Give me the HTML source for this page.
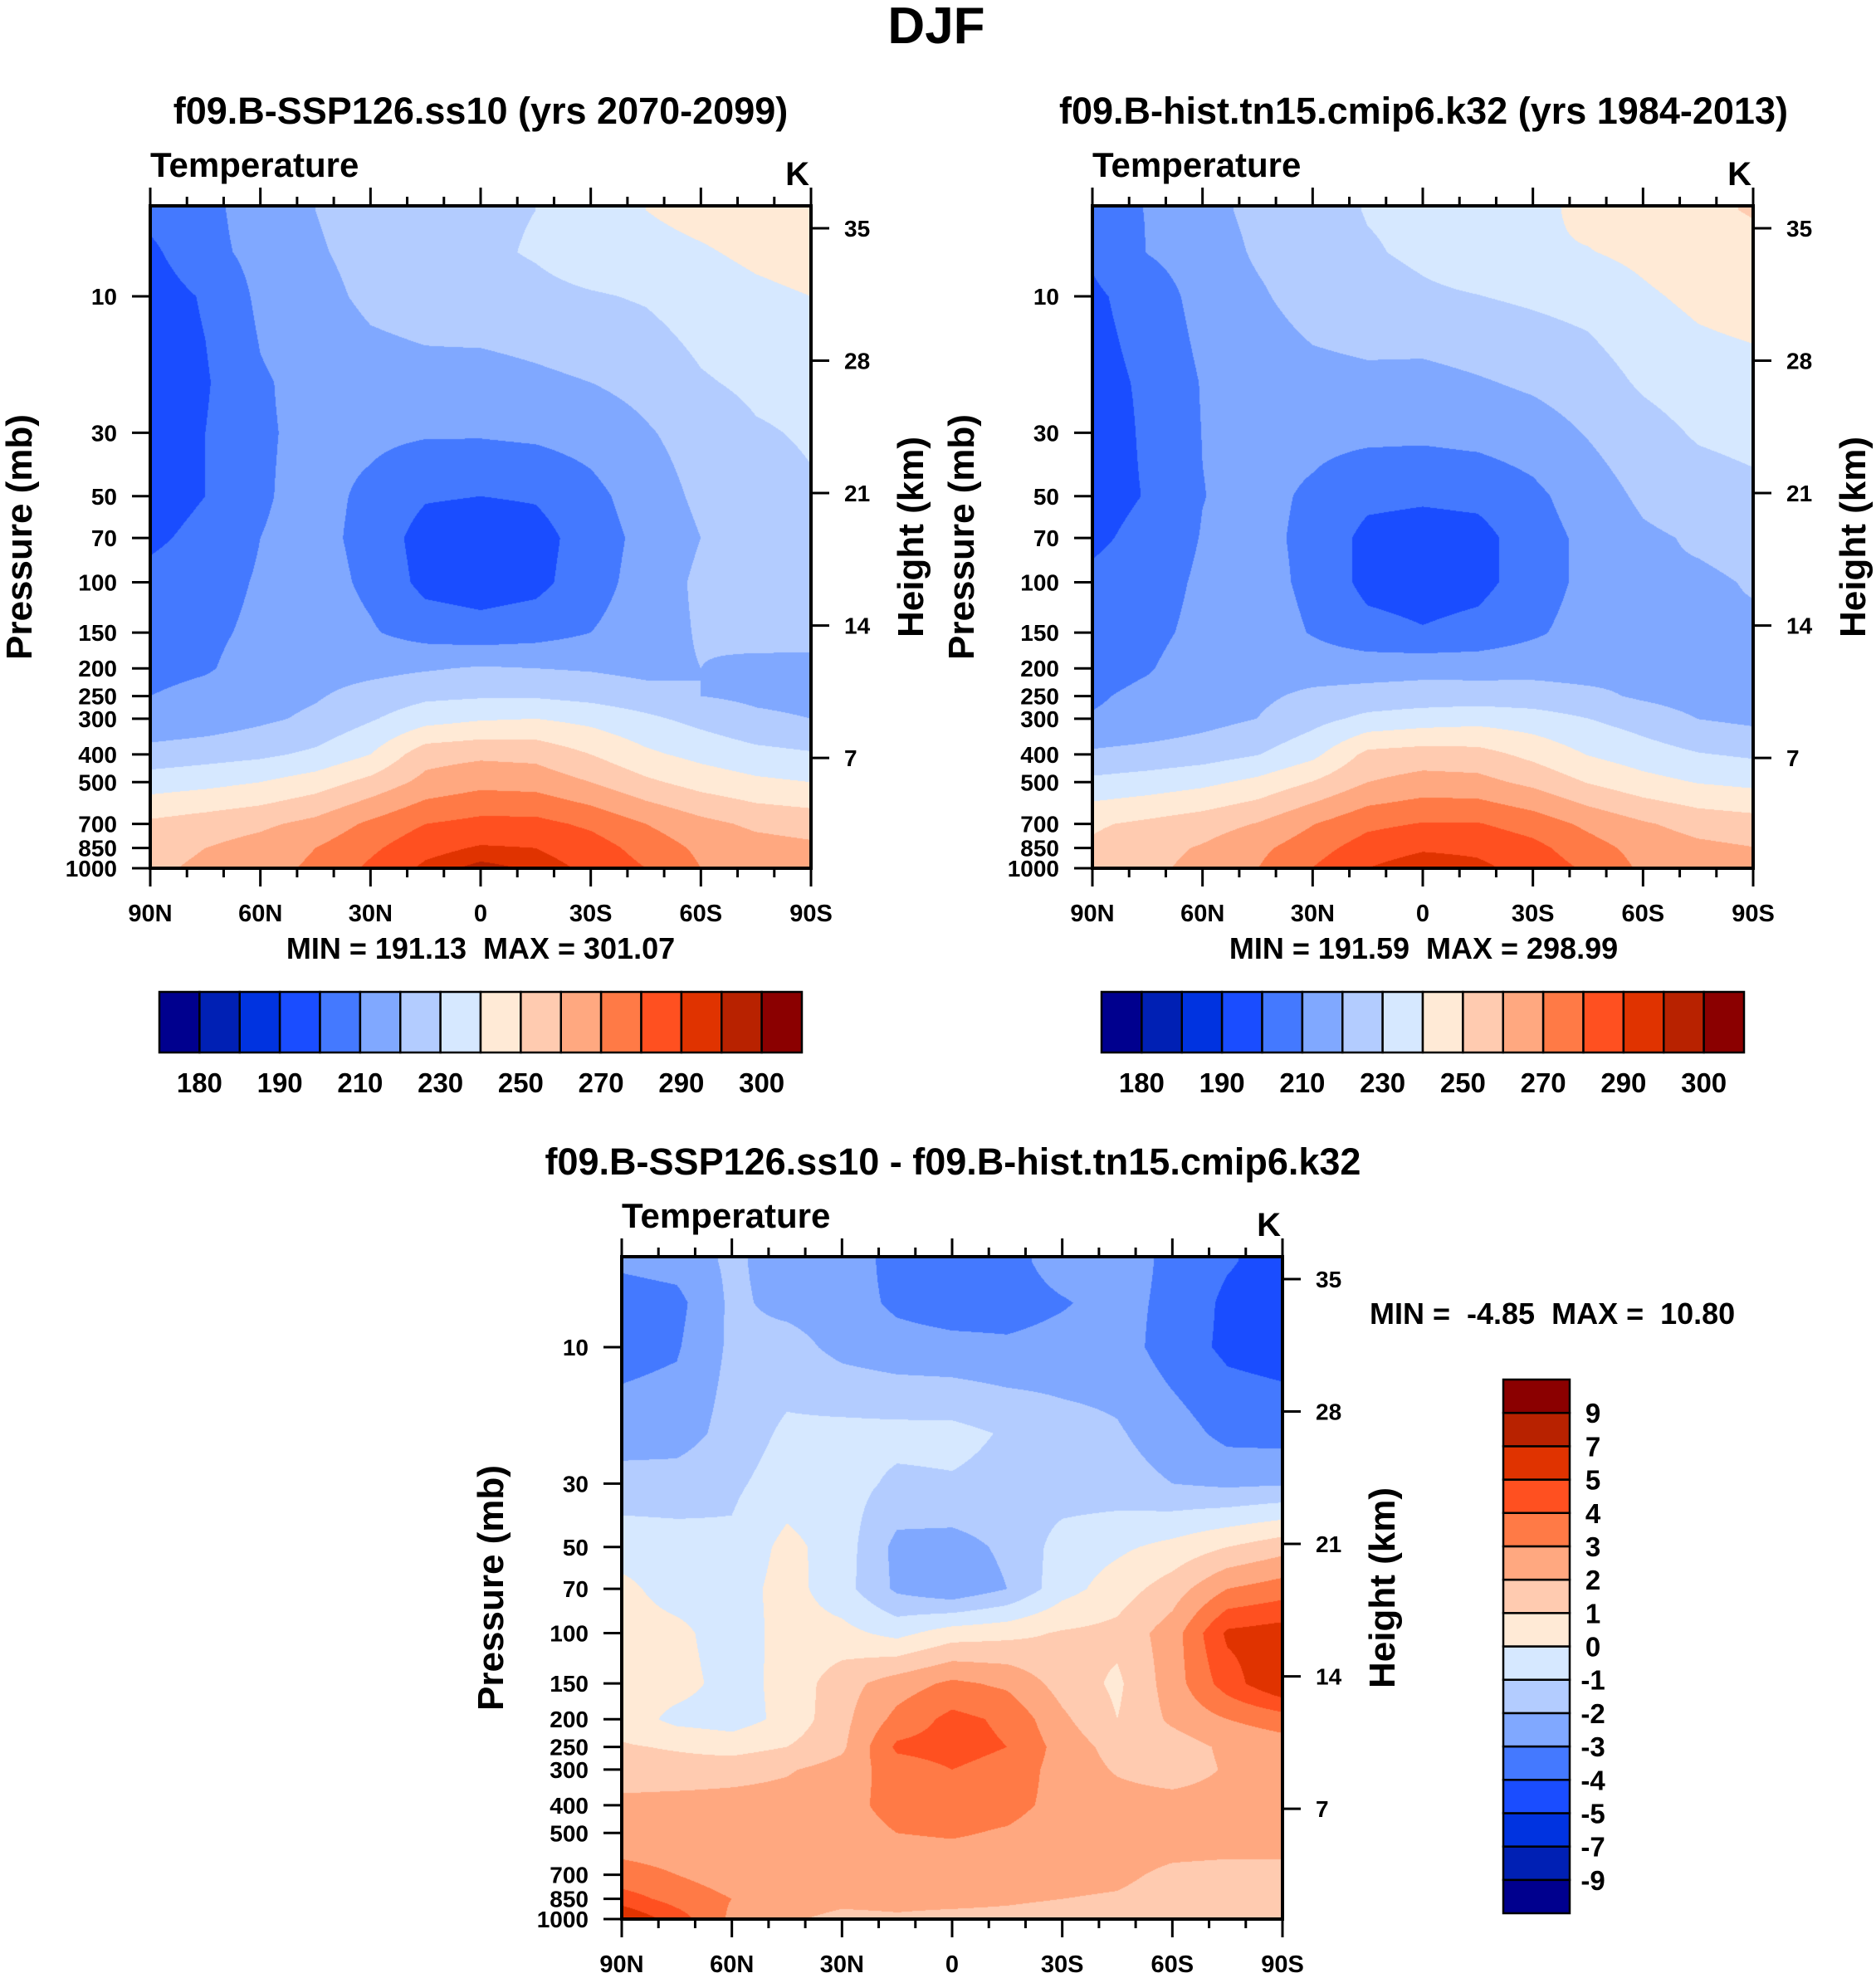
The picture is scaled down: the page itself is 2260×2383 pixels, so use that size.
<!DOCTYPE html>
<html><head><meta charset="utf-8">
<style>
html,body{margin:0;padding:0;background:#fff;}
#root{position:relative;width:2260px;height:2383px;overflow:hidden;background:#fff;font-family:"Liberation Sans",Arial,sans-serif;}
canvas{position:absolute;}
svg{position:absolute;left:0;top:0;}
svg text{white-space:pre;}
</style></head>
<body>
<div id="root">
<canvas id="c1" width="796" height="798" style="left:181px;top:248px"></canvas>
<canvas id="c2" width="797" height="798" style="left:1316px;top:248px"></canvas>
<canvas id="c3" width="797" height="798" style="left:749px;top:1514px"></canvas>
<svg id="ov" width="2260" height="2383"></svg>
</div>
<script>
const lats = [90,75,60,45,30,15,0,-15,-30,-45,-60,-75,-90];
const levels = [5,7,10,20,30,50,70,100,150,200,250,300,400,500,700,850,1000];
const tSSP = [
[203,207,215,220,224,227,228,230,235,240,243,245,246],
[198,207,213,219,223,226,228,231,236,237,239,242,244],
[195,201,212,217,222,224,226,227,229,231,235,238,240],
[194,199,209,213,216,217,216,218,220,223,229,232,233],
[193,200,209,212,212,211,211,212,214,219,224,229,231],
[195,200,209,213,208,201,200,201,207,215,222,226,229],
[198,203,210,213,207,195.5,194,196,205,213,220,224,226],
[203,206,211,214,208,197,195,197,206,214,222,224,226],
[205,208,212,215,211,206,204,206,210,215,221,224,225],
[207,209,214,216,217,219,221,220,219,217,220,217,216],
[210,213,216,219,224,228,229,229,227,224,220,218,217],
[212,214,218,222,229,236,239,240,237,232,227,222,220],
[224,226,228,232,240,256,258,257,250,242,237,233,231],
[235,237,240,245,253,263,267,266,260,252,246,242,240],
[252,255,258,263,272,280,283,283,278,270,263,258,256],
[256,260,264,270,278,287,291,290,285,276,268,264,262],
[258,262,266,272,282,292,297,294,288,280,270,266,264]];
const tHist = [
[206.5,210.3,216.8,222.5,226.2,230.5,231.6,233.4,237.5,242.4,246.3,248.9,250.4],
[201.5,210.3,214.8,221.3,225.5,229.2,231.5,234.5,239.1,239.6,242.3,246.2,248.5],
[198.3,204.1,213.8,218.6,224.3,226.6,228.7,229.8,231.6,233.5,238.5,242.2,244.4],
[196.6,201.5,210.6,213.8,216.7,217.7,216.7,219.1,221.6,224.9,231.5,235.3,236.4],
[194.5,201.5,210.2,212.5,212.6,212.3,212.1,213.3,215.5,220.6,226.0,231.2,233.1],
[195.5,200.6,209.8,212.7,208.5,202.5,201.5,202.5,207.6,215.2,221.7,225.0,227.4],
[197.7,203.5,210.5,212.6,207.6,197.0,195.5,196.5,205.4,212.5,218.5,221.0,222.5],
[202.5,205.7,211.6,213.6,207.7,197.0,195.5,197.0,204.9,212.7,219.5,218.8,220.5],
[204.5,207.6,212.4,214.7,209.4,203.5,200.8,203.2,208.4,214.2,218.5,219.5,219.0],
[206.4,209.3,214.5,215.7,215.3,215.7,216.7,216.2,216.8,216.0,217.8,214.0,212.5],
[208.9,212.1,215.4,218.0,222.2,223.8,224.6,225.0,224.4,222.4,218.5,215.8,214.5],
[210.6,212.6,216.4,220.1,226.6,232.5,235.0,236.4,234.4,230.1,225.5,219.9,217.7],
[221.7,223.6,225.6,229.6,237.3,252.7,254.6,253.7,247.3,239.6,234.6,230.6,228.6],
[232.5,234.5,237.5,242.5,250.4,260.0,263.9,263.1,257.5,249.5,243.5,239.5,237.5],
[248.7,252.0,255.5,260.6,269.6,277.6,280.6,280.6,275.7,267.8,261.2,256.3,254.3],
[251.5,256.4,261.0,267.6,275.8,284.8,288.8,287.9,283.0,274.1,266.4,262.4,260.3],
[252.0,257.5,263.2,269.9,280.2,290.1,295.2,292.2,286.3,278.3,268.2,264.2,262.2]];
const tDiff = [
[-2.8,-2.6,-1.8,-2.5,-2.2,-3.5,-3.6,-3.4,-2.5,-2.4,-3.3,-3.9,-4.4],
[-3.5,-3.3,-1.8,-2.3,-2.5,-3.2,-3.5,-3.5,-3.1,-2.6,-3.3,-4.2,-4.5],
[-3.3,-3.1,-1.8,-1.6,-2.3,-2.6,-2.7,-2.8,-2.6,-2.5,-3.5,-4.2,-4.4],
[-2.6,-2.5,-1.6,-0.8,-0.7,-0.7,-0.7,-1.1,-1.6,-1.9,-2.5,-3.3,-3.4],
[-1.5,-1.5,-1.2,-0.5,-0.6,-1.2,-1.1,-1.3,-1.5,-1.6,-2.0,-2.2,-2.1],
[-0.5,-0.6,-0.8,0.3,-0.5,-2.3,-2.4,-1.8,-0.6,-0.2,0.3,1.0,1.6],
[0.3,-0.5,-0.5,0.4,-0.6,-2.2,-2.8,-2.0,-0.4,0.5,1.5,3.0,3.5],
[0.5,0.3,-0.6,0.4,0.3,-0.3,0.5,0.7,1.1,1.3,2.5,5.2,5.5],
[0.5,0.4,-0.4,0.3,1.6,2.5,3.2,2.8,1.6,0.8,2.5,4.5,6.0],
[0.6,-0.3,-0.5,0.3,1.7,3.3,4.3,3.8,2.2,1.0,2.2,3.0,3.5],
[1.1,0.9,0.6,1.0,1.8,4.2,4.4,4.0,2.6,1.6,1.5,2.2,2.5],
[1.4,1.4,1.6,1.9,2.4,3.5,4.0,3.6,2.6,1.9,1.5,2.1,2.3],
[2.3,2.4,2.4,2.4,2.7,3.3,3.4,3.3,2.7,2.4,2.4,2.4,2.4],
[2.5,2.5,2.5,2.5,2.6,3.0,3.1,2.9,2.5,2.5,2.5,2.5,2.5],
[3.3,3.0,2.5,2.4,2.4,2.4,2.4,2.4,2.3,2.2,1.8,1.7,1.7],
[4.5,3.6,3.0,2.4,2.2,2.2,2.2,2.1,2.0,1.9,1.6,1.6,1.7],
[6.0,4.5,2.8,2.1,1.8,1.9,1.8,1.8,1.7,1.7,1.8,1.8,1.8]];
const absLevels = [180,185,190,200,210,220,230,240,250,260,270,280,290,295,300];
const diffLevels = [-9,-7,-5,-4,-3,-2,-1,0,1,2,3,4,5,7,9];
const absTickLabels = ['180','190','210','230','250','270','290','300'];
const diffTickLabels = ['-9','-7','-5','-4','-3','-2','-1','0','1','2','3','4','5','7','9'];
const pressureTicks = [10,30,50,70,100,150,200,250,300,400,500,700,850,1000];
const heightTicks = [35,28,21,14,7];
const latTickLabels = ['90N','60N','30N','0','30S','60S','90S'];
const colors = ['#00008e','#0020b4','#0033e0','#1a4dff','#4479ff','#80a8ff','#b3ccff','#d6e8ff','#ffead6','#ffcbb0','#ffa880','#ff7a46','#ff5020','#e03300','#b82200','#8b0000'];

const PW = 796, PH = 798;
function yOfP(p){ return PH - (3 - Math.log10(p)) * 344.5; }
function yOfH(h){ return 27 + (35 - h) * 22.79; }
function xOfLat(lat){ return (90 - lat) / 180 * PW; }
function hexRGB(h){ return [parseInt(h.slice(1,3),16),parseInt(h.slice(3,5),16),parseInt(h.slice(5,7),16)]; }
const rgb = colors.map(hexRGB);
const logLev = levels.map(Math.log10);

function drawField(id, field, lev){
  const cv = document.getElementById(id);
  const ctx = cv.getContext('2d');
  const W = cv.width, H = cv.height;
  const img = ctx.createImageData(W, H);
  for (let py = 0; py < H; py++){
    let lp = 3 - (PH - py - 0.5) / 344.5;
    if (lp < logLev[0]) lp = logLev[0];
    let k = 0;
    while (k < logLev.length - 2 && lp > logLev[k+1]) k++;
    const t = (lp - logLev[k]) / (logLev[k+1] - logLev[k]);
    const r0 = field[k], r1 = field[k+1];
    for (let px = 0; px < W; px++){
      const lat = 90 - (px + 0.5) / PW * 180;
      let f = (90 - lat) / 15; if (f > 11.9999) f = 11.9999; if (f < 0) f = 0;
      const i = Math.floor(f), u = f - i;
      const a = r0[i]*(1-u) + r0[i+1]*u;
      const b = r1[i]*(1-u) + r1[i+1]*u;
      const v = a*(1-t) + b*t;
      let c = 0; while (c < lev.length && v >= lev[c]) c++;
      const col = rgb[c]; const o = (py*W + px)*4;
      img.data[o]=col[0]; img.data[o+1]=col[1]; img.data[o+2]=col[2]; img.data[o+3]=255;
    }
  }
  ctx.putImageData(img, 0, 0);
}
drawField('c1', tSSP, absLevels);
drawField('c2', tHist, absLevels);
drawField('c3', tDiff, diffLevels);

const NS = 'http://www.w3.org/2000/svg';
const ov = document.getElementById('ov');
function mk(tag, attrs, text){
  const e = document.createElementNS(NS, tag);
  for (const k in attrs) e.setAttribute(k, attrs[k]);
  if (text !== undefined) e.textContent = text;
  ov.appendChild(e);
  return e;
}
function txt(x, y, s, size, anchor, extra){
  const a = {x:x, y:y, 'font-size':size, 'font-weight':'bold', 'text-anchor':anchor||'middle', fill:'#000', 'font-family':'Liberation Sans, Arial, sans-serif'};
  if (extra) for (const k in extra) a[k] = extra[k];
  return mk('text', a, s);
}

let e;
e = txt(1128, 52, 'DJF', 62);



function panel(L, T, title, titleX, key){
  let el;
  el = txt(titleX, T - 99, title, 45);
  
  
  el = txt(L, T - 35, 'Temperature', 42, 'start');
  
  
  el = txt(L + PW - 2, T - 25, 'K', 40, 'end');
  
  
  el = mk('rect', {x:L, y:T, width:PW, height:PH, fill:'none', stroke:'#000', 'stroke-width':4});
  
  
  for (let lat = 90; lat >= -90; lat -= 10){
    const x = L + xOfLat(lat);
    const major = (lat % 30 === 0);
    const len = major ? 22 : 11;
    el = mk('line', {x1:x, y1:T, x2:x, y2:T - len, stroke:'#000', 'stroke-width':3});
    
    
    el = mk('line', {x1:x, y1:T + PH, x2:x, y2:T + PH + len, stroke:'#000', 'stroke-width':3});
    
    
  }
  latTickLabels.forEach((s, i) => {
    const x = L + i * PW / 6;
    const t = txt(x, T + PH + 64, s, 29);
    
    
  });
  pressureTicks.forEach(p => {
    const y = T + yOfP(p);
    let t = mk('line', {x1:L, y1:y, x2:L - 22, y2:y, stroke:'#000', 'stroke-width':3});
    
    
    t = txt(L - 40, y + 10, String(p), 28, 'end');
    
    
  });
  heightTicks.forEach(h => {
    const y = T + yOfH(h);
    let t = mk('line', {x1:L + PW, y1:y, x2:L + PW + 22, y2:y, stroke:'#000', 'stroke-width':3});
    
    
    t = txt(L + PW + 40, y + 10, String(h), 28, 'start');
    
    
  });
  el = txt(0, 0, 'Pressure (mb)', 44, 'middle', {transform:'translate(' + (L - 143) + ',' + (T + 399) + ') rotate(-90)'});
  
  
  el = txt(0, 0, 'Height (km)', 44, 'middle', {transform:'translate(' + (L + PW + 135) + ',' + (T + 399) + ') rotate(-90)'});
  
  
}
panel(181, 248, 'f09.B-SSP126.ss10 (yrs 2070-2099)', 579, 'ssp');
panel(1316, 248, 'f09.B-hist.tn15.cmip6.k32 (yrs 1984-2013)', 1715, 'hist');
panel(749, 1514, 'f09.B-SSP126.ss10 - f09.B-hist.tn15.cmip6.k32', 1148, 'diff');

e = txt(579, 1155, 'MIN = 191.13  MAX = 301.07', 36);


e = txt(1715, 1155, 'MIN = 191.59  MAX = 298.99', 36);


e = txt(1650, 1595, 'MIN =  -4.85  MAX =  10.80', 36, 'start');



function hbar(L, key){
  const T = 1195, W = 774, H = 73, bw = W / 16;
  colors.forEach((c, i) => {
    const r = mk('rect', {x:L + i*bw, y:T, width:bw, height:H, fill:c, stroke:'#000', 'stroke-width':2.5});
    
    
  });
  absTickLabels.forEach((s, j) => {
    const t = txt(L + (2*j + 1) * bw, 1316, s, 33);
    
    
  });
}
hbar(192, 'ssp');
hbar(1327, 'hist');

(function(){
  const L = 1811, T = 1662, W = 80, H = 643, bh = H / 16;
  colors.forEach((c, i) => {
    const r = mk('rect', {x:L, y:T + H - (i+1)*bh, width:W, height:bh, fill:c, stroke:'#000', 'stroke-width':2.5});
    
    
  });
  diffTickLabels.forEach((s, j) => {
    const t = txt(1919, T + H - (j+1)*bh + 12, s, 33);
    
    
  });
})();
</script>
</body></html>
